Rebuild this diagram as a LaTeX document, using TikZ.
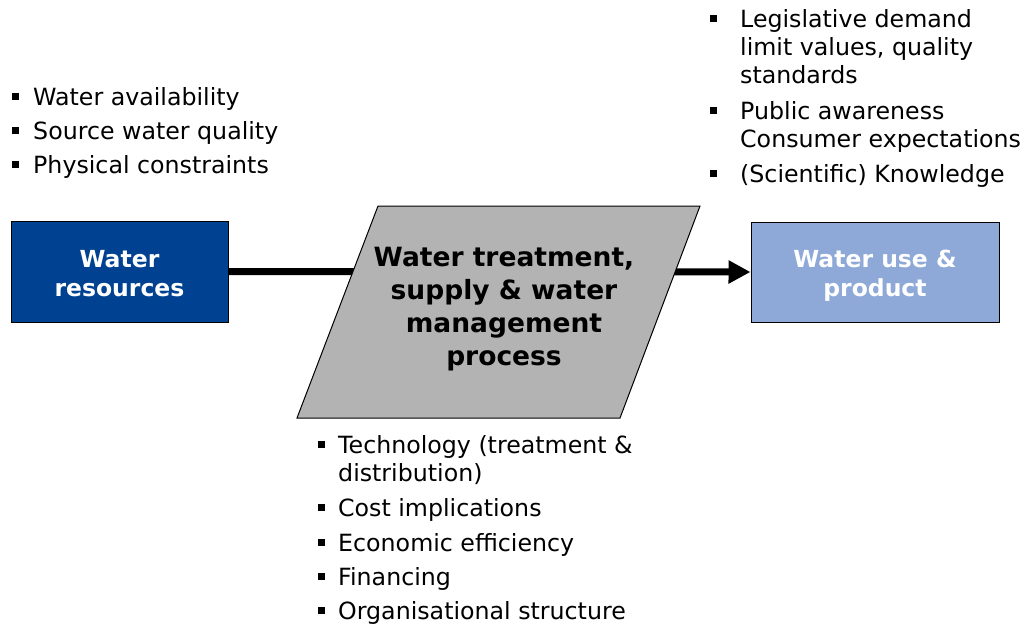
\documentclass[tikz,border=0pt]{standalone}
\usepackage{fontspec}
\setmainfont{DejaVu Sans}
\usetikzlibrary{arrows.meta,backgrounds}
\definecolor{resblue}{RGB}{0, 65, 145}
\definecolor{useblue}{RGB}{142, 169, 216}
\definecolor{procgray}{RGB}{179, 179, 179}
\newcommand{\bul}{\rule[5pt]{7pt}{7pt}}

\begin{document}
\begin{tikzpicture}[x=1pt, y=-1pt,
    box/.style={draw, line width=1pt, inner sep=0pt, align=center,
                font=\fontsize{23.5}{29}\selectfont\bfseries},
    list/.style={anchor=base west, inner sep=0pt, font=\fontsize{23.7}{28}\selectfont},
    flow/.style={line width=7pt, -{Triangle[length=22pt,width=22pt]}}]
                    \useasboundingbox (0,0) rectangle (1026,625);
                    \node[box, fill=resblue, text=white, minimum width=217pt, minimum height=101pt] (res) at (119.5,271.5) {\rule{0pt}{22pt}Water\\resources};
                    \node[box, fill=useblue, text=white, minimum width=248pt, minimum height=100pt] (use) at (875,272) {\rule{0pt}{24pt}Water use \&\\product};
                    % process parallelogram
                    \filldraw[fill=procgray, line width=1pt] (378,206) -- (700,206) -- (620,418) -- (297,418) -- cycle;
                    \node[inner sep=0pt, align=center, font=\fontsize{26.5}{33}\selectfont\bfseries] (proc) at (504,309)
                          {Water treatment,\\supply \& water\\management\\process};
                    \begin{scope}[on background layer]
                        \draw[flow] (res.east) -- (use.west);
                    \end{scope}
                    % bullet lists
                    \node[list] (resnotes) at (12,105) {\begin{tabular}[t]{@{}l@{\hspace{14pt}}l@{}}
                        \bul & Water availability\\[6pt]
                        \bul & Source water quality\\[6pt]
                        \bul & Physical constraints
                    \end{tabular}};
                    \node[list] (usenotes) at (710,27) {\begin{tabular}[t]{@{}l@{\hspace{23pt}}l@{}}
                        \bul & Legislative demand\\
                             & limit values, quality\\
                             & standards\\[8pt]
                        \bul & Public awareness\\
                             & Consumer expectations\\[7pt]
                        \bul & (Scientific) Knowledge
                    \end{tabular}};
                    \node[list] (procnotes) at (318,453) {\begin{tabular}[t]{@{}l@{\hspace{13pt}}l@{}}
                        \bul & Technology (treatment \&\\
                             & distribution)\\[7pt]
                        \bul & Cost implications\\[7pt]
                        \bul & Economic efficiency\\[6pt]
                        \bul & Financing\\[6pt]
                        \bul & Organisational structure
                    \end{tabular}};
                \end{tikzpicture}
\end{document}
